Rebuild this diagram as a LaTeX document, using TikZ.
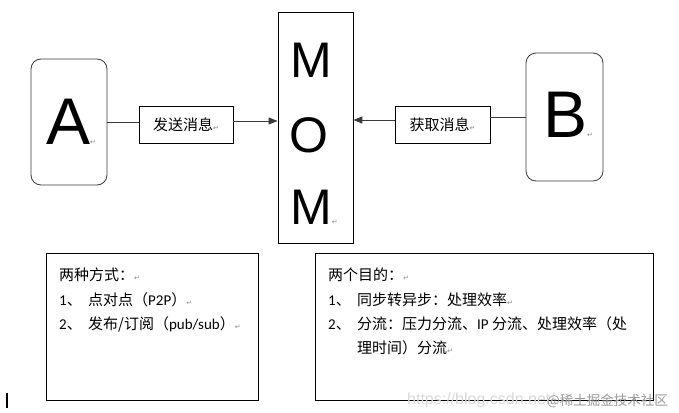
\documentclass[tikz,border=0pt]{standalone}
\usepackage{fontspec}
\setmainfont{Liberation Sans}
\newfontfamily\cjk{Noto Sans CJK SC}
\newfontfamily\lat{Carlito}
\newfontfamily\dv{DejaVu Sans}
\usetikzlibrary{arrows.meta}
\definecolor{edge}{HTML}{3A3A3A}
\definecolor{pmark}{HTML}{8A8A8A}
\newcommand{\parmark}{{\color{pmark}\dv\fontsize{7}{8}\selectfont ↵}}
\begin{document}
\begin{tikzpicture}[x=1pt,y=-1pt,
  roundbox/.style={draw=edge,line width=0.8pt,rounded corners=10pt,inner sep=0pt},
  plainbox/.style={draw=black,line width=0.8pt,inner sep=0pt},
  lblbox/.style={draw=black,line width=0.8pt,inner sep=0pt,minimum height=37pt,font=\cjk\fontsize{15}{17}\selectfont},
  txt/.style={anchor=base west,inner sep=0pt,font=\cjk\fontsize{15}{17}\selectfont},
  conn/.style={draw=edge,line width=0.9pt},
  arr/.style={conn,-{Triangle[length=9pt,width=7pt]}}]
\useasboundingbox (0,0) rectangle (679,412);
\fill[white] (0,0) rectangle (679,412);
% A and B
\node[roundbox,minimum width=76pt,minimum height=126pt] (a) at (69,122) {};
\node[anchor=base west,inner sep=0pt,font=\fontsize{66}{70}\selectfont] (aletter) at (46,144) {A\parmark};
\node[roundbox,minimum width=77pt,minimum height=128pt] (b) at (564.5,117) {};
\node[anchor=base west,inner sep=0pt,font=\fontsize{66}{70}\selectfont] (bletter) at (543,137) {B\parmark};
% MOM
\node[plainbox,minimum width=75pt,minimum height=231pt] (mom) at (315.5,127.5) {};
\node[anchor=base west,inner sep=0pt,font=\fontsize{50}{54}\selectfont] (m1) at (290,77) {M};
\node[anchor=base west,inner sep=0pt,font=\fontsize{50}{54}\selectfont] (o) at (289,152) {O};
\node[anchor=base west,inner sep=0pt,font=\fontsize{50}{54}\selectfont] (m2) at (290,224) {M\parmark};
% labels
\node[lblbox,minimum width=94pt] (send) at (186,124.5) {发送消息\parmark};
\node[lblbox,minimum width=95pt] (get) at (442.5,124.5) {获取消息\parmark};
% connectors
\coordinate (sl) at (139,122);
\coordinate (sr) at (233,121);
\coordinate (gl) at (395,120);
\coordinate (gr) at (490,117);
\draw[conn] (a.east |- sl) -- (sl);
\draw[arr] (sr) -- (mom.west |- sr);
\draw[conn] (b.west |- gr) -- (gr);
\draw[arr] (gl) -- (mom.east |- gl);
% text boxes
\node[plainbox,minimum width=212pt,minimum height=147pt] (left) at (152,326.5) {};
\node[plainbox,minimum width=338pt,minimum height=147pt] (right) at (484,326.5) {};
\node[txt] (l1) at (59,280) {两种方式：\parmark};
\node[txt] (l2n) at (59,305) {{\lat 1}、};
\node[txt] (l2) at (88,305) {点对点（{\lat P2P}）\parmark};
\node[txt] (l3n) at (59,329) {{\lat 2}、};
\node[txt] (l3) at (88,329) {发布/订阅（{\lat pub/sub}）\parmark};
\node[txt] (r1) at (328,280) {两个目的：\parmark};
\node[txt] (r2n) at (328,305) {{\lat 1}、};
\node[txt] (r2) at (357,305) {同步转异步：处理效率\parmark};
\node[txt] (r3n) at (328,329) {{\lat 2}、};
\node[txt] (r3) at (357,329) {分流：压力分流、{\lat IP} 分流、处理效率（处};
\node[txt] (r4) at (357,353) {理时间）分流\parmark};
% watermark
\node[anchor=base west,inner sep=0pt,text=black!15,font=\fontsize{16}{17}\selectfont] (wm1) at (407,404) {https://blog.csdn.net/};
\node[anchor=base west,inner sep=0pt,text=black!40,font=\cjk\fontsize{13.5}{15}\selectfont] (wm2) at (547,405) {@稀土掘金技术社区};
% cursor
\fill[black] (6,393) rectangle (8,408);
\end{tikzpicture}
\end{document}
